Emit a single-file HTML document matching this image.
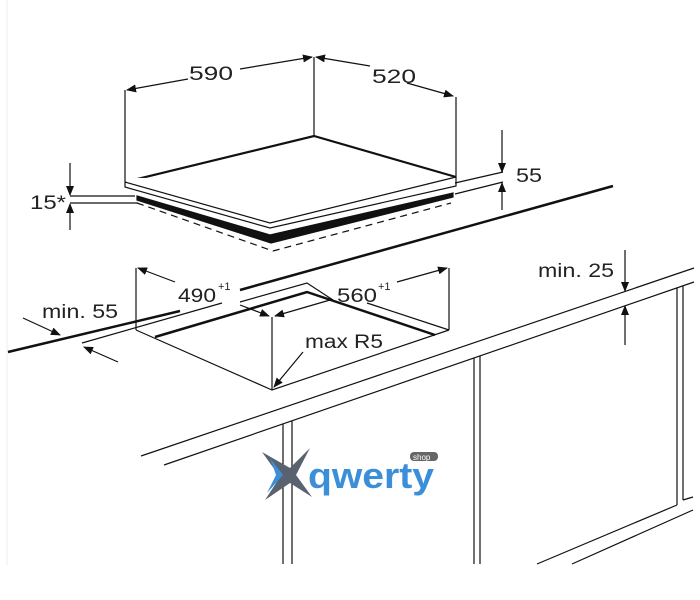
<!DOCTYPE html>
<html><head><meta charset="utf-8"><style>
html,body{margin:0;padding:0;background:#fff;}
svg{display:block;}
text{font-family:"Liberation Sans",sans-serif;fill:#222;}
</style></head><body>
<svg width="700" height="600" viewBox="0 0 700 600" xmlns="http://www.w3.org/2000/svg">
<defs>
<marker id="a" markerWidth="10" markerHeight="8" refX="9" refY="4" orient="auto" markerUnits="userSpaceOnUse">
<path d="M0,0 L10,4 L0,8 Z" fill="#111"/></marker>
</defs>
<line x1="7" y1="0" x2="7" y2="565" stroke="#eee" stroke-width="1"/>
<g stroke="#111" fill="none" stroke-width="1.2">
<!-- hob -->
<path d="M125,182 L314,136 L456,177" stroke-width="2.2"/>
<path d="M125,178 L125,187 L270,228 L456,186 L456,177" fill="#fff"/>
<path d="M125,182 L270,223 L456,177"/>
<path d="M137,196 L270,235 L453,193 L453,197 L271,243 L137,200 Z" fill="#111"/>
<path d="M137,203 L273,251 L451,203" stroke-dasharray="7,5"/>
<!-- dims -->
<line x1="125" y1="90" x2="125" y2="178"/>
<line x1="314" y1="57" x2="314" y2="136"/>
<line x1="456" y1="97" x2="456" y2="177"/>
<line x1="188" y1="79" x2="127" y2="90" marker-end="url(#a)"/>
<line x1="240" y1="69" x2="312" y2="57" marker-end="url(#a)"/>
<line x1="370" y1="66" x2="316" y2="57" marker-end="url(#a)"/>
<line x1="407" y1="83" x2="453" y2="96" marker-end="url(#a)"/>
<!-- 55 -->
<line x1="455" y1="183" x2="503" y2="172"/>
<line x1="455" y1="194" x2="503" y2="182"/>
<line x1="502" y1="130" x2="502" y2="172" marker-end="url(#a)"/>
<line x1="502" y1="210" x2="502" y2="183" marker-end="url(#a)"/>
<!-- 15* -->
<line x1="70" y1="196" x2="135" y2="196"/>
<line x1="70" y1="203" x2="138" y2="203"/>
<line x1="70" y1="163" x2="70" y2="195" marker-end="url(#a)"/>
<line x1="70" y1="230" x2="70" y2="204" marker-end="url(#a)"/>
<!-- counter edge thick -->
<line x1="613" y1="186" x2="240" y2="290" stroke-width="2.5"/>
<line x1="180" y1="311" x2="8" y2="352" stroke-width="2.5"/>
<!-- cutout -->
<line x1="136" y1="268" x2="136" y2="330"/>
<line x1="449" y1="268" x2="449" y2="330"/>
<path d="M136,330 L272,390 L449,330"/>
<line x1="272" y1="317" x2="272" y2="390"/>
<path d="M155,337 L307,292 L435,335" stroke-width="2.5"/>
<path d="M82,343 L222,303"/>
<path d="M240,302 L307,283 L333,300"/>
<path d="M367,303 L449,330"/>
<line x1="175" y1="282" x2="138" y2="268" marker-end="url(#a)"/>
<line x1="397" y1="282" x2="447" y2="268" marker-end="url(#a)"/>
<line x1="240" y1="305" x2="269" y2="316" marker-end="url(#a)"/>
<line x1="330" y1="300" x2="275" y2="316" marker-end="url(#a)"/>
<line x1="303" y1="352" x2="274" y2="387" marker-end="url(#a)"/>
<!-- min 55 -->
<line x1="23" y1="318" x2="60" y2="335" marker-end="url(#a)"/>
<line x1="118" y1="362" x2="84" y2="347" marker-end="url(#a)"/>
<!-- counter front -->
<line x1="141" y1="456" x2="694" y2="268"/>
<line x1="164" y1="465" x2="694" y2="282"/>
<line x1="625" y1="250" x2="625" y2="291" marker-end="url(#a)"/>
<line x1="625" y1="345" x2="625" y2="306" marker-end="url(#a)"/>
<!-- cabinets -->
<line x1="283" y1="424" x2="283" y2="564"/>
<line x1="292" y1="421" x2="292" y2="564"/>
<line x1="474" y1="358" x2="474" y2="564"/>
<line x1="480" y1="356" x2="480" y2="564"/>
<line x1="677" y1="288" x2="677" y2="505"/>
<line x1="683" y1="286" x2="683" y2="500"/>
<line x1="537" y1="564" x2="677" y2="505"/>
<line x1="683" y1="500" x2="693" y2="497"/>
<line x1="572" y1="564" x2="693" y2="510"/>
</g>
<g font-size="19" transform="">
<text x="189" y="80" textLength="44" lengthAdjust="spacingAndGlyphs">590</text>
<text x="372" y="83" textLength="44" lengthAdjust="spacingAndGlyphs">520</text>
<text x="516" y="182" textLength="26" lengthAdjust="spacingAndGlyphs">55</text>
<text x="30" y="209" textLength="36" lengthAdjust="spacingAndGlyphs">15*</text>
<text x="178" y="302" textLength="38" lengthAdjust="spacingAndGlyphs">490</text>
<text x="218" y="290" font-size="11">+1</text>
<text x="337" y="302" textLength="40" lengthAdjust="spacingAndGlyphs">560</text>
<text x="378" y="290" font-size="11">+1</text>
<text x="42" y="318" textLength="76" lengthAdjust="spacingAndGlyphs">min. 55</text>
<text x="305" y="348" textLength="78" lengthAdjust="spacingAndGlyphs">max R5</text>
<text x="538" y="277" textLength="76" lengthAdjust="spacingAndGlyphs">min. 25</text>
</g>
<!-- watermark -->
<g>
<path d="M262,452 L290,468 L310,448 L296,475 L312,497 L290,483 L265,500 L280,477 Z" fill="#5a6270"/>
<path d="M270,458 L283,475 L267,493 L276,475 Z" fill="#3a8fd8"/>
<text x="308" y="488" font-size="36" font-weight="bold" style="fill:#3a8fd8" textLength="126" lengthAdjust="spacingAndGlyphs">qwerty</text>
<rect x="410" y="452" width="28" height="9" rx="4" fill="#666"/>
<text x="413" y="460" font-size="8" style="fill:#fff">shop</text>
</g>
</svg>
</body></html>
